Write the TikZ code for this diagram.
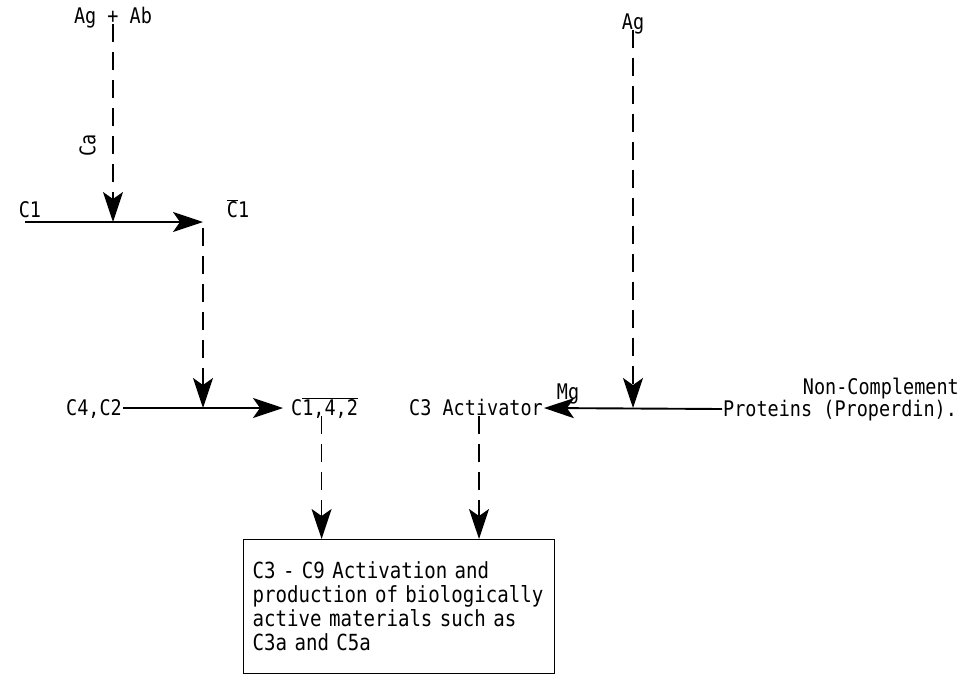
\documentclass[tikz,border=0pt]{standalone}
\usepackage{fontspec}
\setmonofont[FakeStretch=0.86]{DejaVu Sans Mono}
\usetikzlibrary{arrows.meta, positioning}

\begin{document}
\begin{tikzpicture}[x=1pt, y=-1pt,
		typed/.style={font=\ttfamily\fontsize{21.5}{24}\selectfont},
		lbl/.style={typed, inner sep=1pt, text height=14.5pt, text depth=0pt},
		flow/.style={line width=1.9pt, arrows={-Stealth[length=30pt, width=20pt, inset=7pt]}},
		trig/.style={flow, line width=1.7pt, dash pattern=on 18pt off 10pt}]
		\useasboundingbox (0,0) rectangle (967,675);

		% classical pathway
		\node[lbl] (agab) at (113,16) {Ag + Ab};
		\node[lbl, rotate=90] (ca) at (88,145) {Ca};
		\node[lbl] (c1) at (30,210) {C1};
		\node[lbl] (c1bar) at (238,210) {$\overline{\mbox{C}}$1};
		\coordinate (c1in) at (25,222);
		\coordinate (c1end) at (203,222);
		\draw[flow] (c1in) -- (c1end);
		\draw[trig] (agab.south) -- (agab.south |- c1end);

		\node[lbl, anchor=east] (c4c2) at (123,408) {C4,C2};
		\node[lbl, anchor=west, inner xsep=8pt] (c142) at (283,408) {C$\overline{\mbox{1,4,2}}$};
		\draw[flow] (c4c2.east) -- (c142.west);
		\draw[trig] ([shift={(0,6)}]c1end) -- (c1end |- c4c2);

		% alternative pathway
		\node[lbl] (ag) at (633,22) {Ag};
		\node[lbl, anchor=east] (act) at (544,408) {C3 Activator};
		\node[lbl, anchor=west] (prot) at (722,409) {Proteins (Properdin).};
		\node[lbl, anchor=east] (noncomp) at (960,387) {Non-Complement};
		\node[lbl] (mg) at (568,392) {Mg};
		\draw[flow] (prot.west) -- (act.east);
		\draw[trig] (ag.south) -- (ag.south |- act);

		% terminal sequence
		\node[typed, font=\ttfamily\fontsize{22.2}{24}\selectfont, draw, line width=1.4pt, anchor=north west,
			text width=293pt, align=left, minimum height=134pt, inner xsep=9pt] (term) at (243,539)
			{C3 - C9 Activation and\\production of biologically\\active materials such as\\C3a and C5a};
		\draw[trig] ([xshift=-3pt]c142.south) -- ([xshift=-3pt]c142.south |- term.north);
		\draw[trig] ([xshift=3pt]act.south) -- ([xshift=3pt]act.south |- term.north);

	\end{tikzpicture}
\end{document}
